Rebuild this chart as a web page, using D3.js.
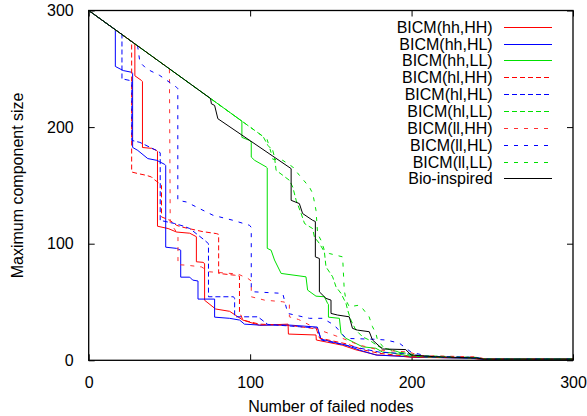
<!DOCTYPE html>
<html>
<head>
<meta charset="utf-8">
<script src="https://cdn.jsdelivr.net/npm/d3@7"></script>
<style>
  body { margin: 0; background: #fff; }
  svg { display: block; }
  text { font-family: "Liberation Sans", Arial, Helvetica, sans-serif; font-size: 16px; fill: #000; }
</style>
</head>
<body>
<svg id="chart" width="587" height="416"></svg>
<script>
// Axis ticks
const xTicks = [0, 100, 200, 300];
const yTicks = [0, 100, 200, 300];

// Largest connected component vs. number of failed nodes, one array per strategy
const hhHH = [[0,300],[28.6,271.4],[28.6,244],[32.7,240],[33.3,239],[33.3,182.5],[38.9,181.8],[42,180],[42.6,179],[42.6,115],[49.2,113],[54.4,110],[62.6,109],[66.7,106],[66.7,84.5],[70.8,84],[71.8,83],[71.8,51.5],[78.6,44],[87.3,42],[95.5,34.5],[105.8,30],[123.5,31],[123.7,22.5],[140.8,21.7],[141,17.4],[157,13],[165.5,9],[178.7,4.5],[192,3.7],[200,2.5],[235,2],[242,1],[300,1]];
const hhHL = [[0,300],[16.5,283.5],[16.5,252],[21.4,248.5],[26.7,247],[27.2,246],[27.2,182.6],[30.4,180],[36.6,173],[42.2,171.5],[47.1,168],[47.7,167],[47.7,97],[54.4,96],[57,94.4],[57,71.3],[62.6,71.3],[64.4,68.8],[67.7,68],[67.7,52.5],[78,52.5],[78,37],[87.3,36],[93.5,34.5],[96.5,31],[105.8,30.2],[124.4,30.2],[141.6,28.5],[143.9,18.2],[159.4,13],[167.6,8.8],[178,4.5],[200,3],[240,1.5],[245,1],[300,1]];
const hhLL = [[0,300],[94.9,205.1],[94.9,191.2],[99.6,188.6],[100.7,187],[100.7,174.3],[102.8,171.5],[110,165.8],[110.6,165],[110.6,96],[113,94.4],[115.1,86],[119.2,74.5],[134.6,71.6],[135.6,60.2],[140.8,55],[146,54.5],[148,48.8],[148.5,48],[148.5,37],[155.3,36],[156.3,23],[159.4,18.8],[169.6,11.6],[177.9,10.3],[182,7.1],[188.1,6.3],[198.5,3.7],[215,2.5],[240,2],[245,1],[300,1]];
const hlHH = [[0,300],[26.6,273.4],[26.6,161.5],[30.6,160.1],[35.8,158.6],[38.9,157.2],[39.9,155.8],[44,151.5],[45.1,150],[45.1,123],[50.2,120.1],[54.4,115.8],[57.4,114.4],[70.8,110.3],[79,108.7],[80.5,108],[80.5,74.5],[90.4,73],[93.4,72.2],[93.4,41.6],[95.5,34.5],[105.8,31],[124,30],[141,27],[143,19],[160,14],[170,9],[180,6],[200,3],[238,2],[243,1],[300,1]];
const hlHL = [[0,300],[20.6,279.4],[20.6,241.4],[25.5,240],[26.7,239],[26.7,188.6],[31.7,186.9],[42,180],[44.3,178],[44.3,120],[53.3,117.3],[58.4,115.2],[62.6,113],[71.8,103],[74.2,100],[74.2,54.5],[89.7,54.5],[90.4,53],[90.4,37.3],[104.8,37.3],[110.9,30.8],[124.4,29.4],[141.6,27.7],[144,17.4],[167.6,10.5],[180,7],[198.5,5.4],[210,3],[240,2],[244,1],[300,1]];
const hlLL = [[0,300],[108,192],[111,184.3],[114,180],[115.1,174.3],[116.1,162.9],[120.2,158.7],[124.3,154.4],[126.4,148.6],[128.5,137.2],[131.6,125.9],[133.7,117.3],[138.7,113],[139.8,105.8],[142.9,100.2],[146,93],[147,80.1],[151.1,71.6],[153.2,63],[156.3,57.4],[159.4,48.8],[160.4,43.1],[162.4,34.5],[165.5,25.9],[169.6,20.2],[173.7,17.4],[179.9,11.6],[192.3,7.1],[205,4],[240,2.5],[246,1],[300,1]];
const llHH = [[0,300],[50,250],[50.5,118],[54.4,110],[55.3,106],[55.3,82],[60.5,81.6],[69.8,80.1],[74.9,75.9],[92.4,74],[98.6,70.2],[100.7,68],[100.7,54.5],[108.9,51.6],[120.2,50.2],[124.3,48.8],[124.3,37.3],[130,35],[142.9,26],[155,20],[167.6,13.1],[180,8.8],[198.5,7.1],[205,4],[240,3],[246,1],[300,1]];
const llHL = [[0,300],[30.3,269.7],[31.7,255.7],[35.8,250],[44,244.3],[54.4,234.2],[55.2,233],[55.2,137.2],[60.5,135.8],[68.7,130.1],[77,124.4],[89.3,120.1],[99.6,115.8],[100.7,114],[100.7,61.6],[102.7,58.7],[120.2,57.4],[123.3,40.2],[136.7,36],[144.9,36],[152.1,30.2],[159.4,18.8],[177.9,18],[184.1,17.4],[192.3,14.8],[199.7,7],[210,3.5],[240,2.5],[246,1],[300,1]];
const llLL = [[0,300],[110.5,189.5],[113,178],[114,172.5],[120.2,171.5],[126.4,165.8],[130.5,158.7],[136.7,148.6],[138.8,143],[140.8,128.6],[141.8,108.7],[143.9,102.9],[146,94.4],[149,91.6],[157.3,88.7],[158.3,60.2],[159.4,51.6],[161.4,45.9],[167.6,47.3],[169.6,44.5],[173.7,37.3],[175.8,28.8],[177.9,23.1],[178.9,17.4],[183,10.5],[198.5,4.5],[210,3],[240,2],[246,1],[300,1]];
const bio  = [[0,300],[75.5,224.5],[76,220],[78,218.6],[80,207.2],[125.4,164.4],[125.4,137.2],[130.5,134.4],[132.5,125.9],[138.7,120.1],[140.4,119],[140.4,88.7],[142.9,87.3],[142.9,58.7],[147,53.1],[150.1,51.6],[150.1,40.2],[154.2,38.8],[161.4,37.3],[163.4,27.4],[166.5,25.9],[173.8,24.5],[175.8,17.4],[182,9.7],[196.4,9.2],[199.7,4.5],[215,3],[240,2],[245,1],[300,1]];

const seriesNames = ["BICM(hh,HH)","BICM(hh,HL)","BICM(hh,LL)","BICM(hl,HH)","BICM(hl,HL)","BICM(hl,LL)","BICM(ll,HH)","BICM(ll,HL)","BICM(ll,LL)","Bio-inspired"];
const seriesData  = [hhHH, hhHL, hhLL, hlHH, hlHL, hlLL, llHH, llHL, llLL, bio];
const seriesColor = ["#ff0000","#0000ff","#00e000","#ff0000","#0000ff","#00e000","#ff3030","#0000ff","#00e000","#000000"];
const seriesDash  = ["none", "none", "none", "5,3", "5,3", "5,3", "4,6", "4,6", "4,6", "none"];

const svg = d3.select("#chart");
const plotLeft = 88.7, plotRight = 573, plotTop = 10.5, plotBottom = 360.3;

const x = d3.scaleLinear().domain([0, 300]).range([plotLeft, plotRight]);
const y = d3.scaleLinear().domain([0, 300]).range([plotBottom, plotTop]);

svg.append("clipPath").attr("id", "plot-clip")
  .append("rect").attr("x", plotLeft).attr("y", plotTop)
  .attr("width", plotRight - plotLeft).attr("height", plotBottom - plotTop);

// Axes: labelled ticks on bottom/left, mirrored unlabelled ticks on top/right, all pointing inward
const styleAxis = g => {
  g.select(".domain").remove();
  g.selectAll(".tick line").attr("stroke", "#000").attr("stroke-width", 1);
  g.selectAll(".tick text").style("font-family", "\"Liberation Sans\", Arial, sans-serif").style("font-size", "16px").attr("fill", "#000");
};
svg.append("g").attr("transform", `translate(0,${plotBottom})`)
  .call(d3.axisBottom(x).tickValues(xTicks).tickSizeInner(-6).tickSizeOuter(0).tickPadding(16))
  .call(styleAxis);
svg.append("g").attr("transform", `translate(0,${plotTop})`)
  .call(d3.axisTop(x).tickValues(xTicks).tickSizeInner(-6).tickSizeOuter(0).tickFormat(""))
  .call(styleAxis);
svg.append("g").attr("transform", `translate(${plotLeft},0)`)
  .call(d3.axisLeft(y).tickValues(yTicks).tickSizeInner(-6).tickSizeOuter(0).tickPadding(15))
  .call(styleAxis);
svg.append("g").attr("transform", `translate(${plotRight},0)`)
  .call(d3.axisRight(y).tickValues(yTicks).tickSizeInner(-6).tickSizeOuter(0).tickFormat(""))
  .call(styleAxis);

// Series
const line = d3.line().x(d => x(d[0])).y(d => y(d[1]));
const plot = svg.append("g").attr("clip-path", "url(#plot-clip)");
seriesData.forEach((data, i) => {
  plot.append("path")
    .datum(data)
    .attr("d", line)
    .attr("fill", "none")
    .attr("stroke", seriesColor[i])
    .attr("stroke-width", 1)
    .attr("stroke-dasharray", seriesDash[i]);
});

// Frame
svg.append("rect")
  .attr("x", plotLeft).attr("y", plotTop)
  .attr("width", plotRight - plotLeft).attr("height", plotBottom - plotTop)
  .attr("fill", "none").attr("stroke", "#000").attr("stroke-width", 1.3);

// Legend: text right-aligned, sample line to its right
const legend = svg.append("g");
seriesNames.forEach((name, i) => {
  const ly = Math.round(26.7 + i * 16.85) + 0.5;
  legend.append("text").attr("x", 492.7).attr("y", ly).attr("dy", "0.36em")
    .attr("text-anchor", "end").text(name);
  legend.append("path")
    .attr("d", `M504,${ly}H552`)
    .attr("fill", "none")
    .attr("stroke", seriesColor[i]).attr("stroke-width", 1)
    .attr("stroke-dasharray", seriesDash[i]);
});

// Axis titles
svg.append("text").attr("x", (plotLeft + plotRight) / 2).attr("y", 412)
  .attr("text-anchor", "middle").text("Number of failed nodes");
svg.append("text")
  .attr("transform", `translate(23,${(plotTop + plotBottom) / 2}) rotate(-90)`)
  .attr("text-anchor", "middle").text("Maximum component size");
</script>
</body>
</html>
